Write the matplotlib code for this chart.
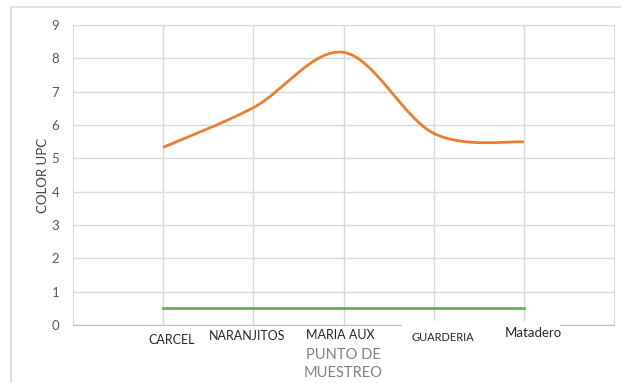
import matplotlib.pyplot as plt
from matplotlib.patches import Rectangle
from matplotlib.path import Path
from matplotlib.patches import PathPatch
import numpy as np

plt.rcParams['font.family'] = ['Lato', 'DejaVu Sans']

puntos = ['CARCEL', 'NARANJITOS', 'MARIA AUX', 'GUARDERIA', 'Matadero']
color_upc = [5.33, 6.52, 8.18, 5.75, 5.49]
limite = [0.5, 0.5, 0.5, 0.5, 0.5]

# label nudges (x in data units, y in points) and sizes for the category names
lbl_dx = [0.09, -0.07, -0.03, 0.10, 0.10]
lbl_dy = [-11, -8, -7, -9, -6]
lbl_size = [9, 9, 9, 8, 9.5]

GRID = '#d9d9d9'


def smooth_path(xs, ys):
    # Excel style smoothed line: cubic bezier with catmull-rom control points
    pts = np.column_stack([xs, ys])
    verts = [pts[0]]
    codes = [Path.MOVETO]
    n = len(pts)
    for i in range(n - 1):
        p0 = pts[i - 1] if i > 0 else pts[i]
        p1 = pts[i]
        p2 = pts[i + 1]
        p3 = pts[i + 2] if i + 2 < n else pts[i + 1]
        c1 = p1 + (p2 - p0) / 6.0
        c2 = p2 - (p3 - p1) / 6.0
        verts += [c1, c2, p2]
        codes += [Path.CURVE4] * 3
    return Path(verts, codes)


fig = plt.figure(figsize=(6.21, 3.83), dpi=100)
ax = fig.add_axes([73 / 621, 58 / 383, 541 / 621, 300 / 383])

x = np.arange(1, len(puntos) + 1)
ax.add_patch(PathPatch(smooth_path(x, color_upc), fill=False, edgecolor='#ed7d31', lw=2, zorder=3))
ax.plot(x, limite, color='#70ad47', lw=2, zorder=3)

ax.set_xlim(0, 6)
ax.set_ylim(0, 9)
ax.set_yticks(range(0, 10))
ax.set_xticks(x)
ax.set_xticklabels([])
ax.tick_params(axis='both', length=0, colors='#595959', labelsize=9.5)
ax.tick_params(axis='y', pad=10)
ax.grid(True, color=GRID, lw=1)
ax.set_axisbelow(True)
for s in ax.spines.values():
    s.set_color(GRID)
ax.spines['bottom'].set_color('#bfbfbf')

for i, name in enumerate(puntos):
    ax.annotate(name, xy=(x[i] + lbl_dx[i], 0), xycoords=('data', 'axes fraction'),
                xytext=(0, lbl_dy[i]), textcoords='offset points',
                ha='center', va='center', fontsize=lbl_size[i], color='#262626',
                zorder=6)

# white strip over part of the axis line, under the labels
ax.add_patch(Rectangle(((402 - 73) / 541, -8 / 300), 158 / 541, 12 / 300,
                       transform=ax.transAxes, facecolor='white', edgecolor='none',
                       clip_on=False, zorder=5))

ax.set_ylabel('COLOR UPC', fontsize=9.5, color='#404040', labelpad=2)
fig.text(343 / 621, 1 - 364 / 383, 'PUNTO DE\nMUESTREO', ha='center', va='center',
         fontsize=10.5, color='#808080', linespacing=1.3)

# chart border
fig.patches.append(Rectangle((11 / 621, -0.05), 1.1, 1 - 7 / 383 + 0.05,
                             transform=fig.transFigure, fill=False, edgecolor=GRID, lw=1.2))

fig.savefig('out.png', dpi=100)
